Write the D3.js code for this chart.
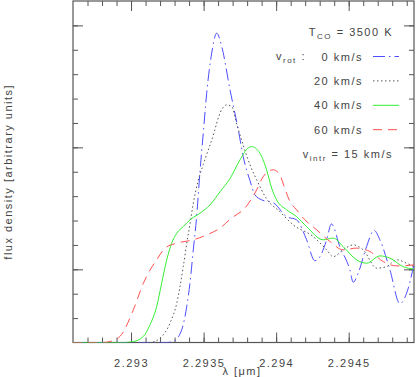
<!DOCTYPE html>
<html>
<head>
<meta charset="utf-8">
<script src="https://cdn.jsdelivr.net/npm/d3@7"></script>
<style>
  body { margin: 0; background: #fff; }
  svg text { font-family: "Liberation Sans", Arial, sans-serif; fill: #444; letter-spacing: 1.5px; }
</style>
</head>
<body>
<svg id="chart" width="416" height="377"></svg>
<script>
// wavelength (micron) / flux density (arbitrary units)
var lamBlue = [2.2926, 2.29325, 2.293291, 2.293349, 2.293384, 2.293406, 2.293429, 2.293452, 2.293475, 2.293498,
  2.293521, 2.293556, 2.29359, 2.293625, 2.293682, 2.293739, 2.293773, 2.29382, 2.293854, 2.2939,
  2.29398, 2.294072, 2.294141, 2.29421, 2.294267, 2.294302, 2.294348, 2.294381, 2.294439, 2.294508,
  2.294531, 2.294565, 2.294623, 2.294674, 2.294715, 2.294784, 2.294853, 2.294899, 2.294949];
var fluxBlue = [0, 0, 0.04, 0.52, 1.48, 2.43, 3.8, 5.16, 7.0, 8.6,
  10.2, 11.87, 12.68, 12.13, 10.36, 8.72, 7.62, 6.63, 6.05, 5.85,
  5.73, 5.16, 5.03, 4.21, 3.35, 3.52, 4.21, 4.86, 3.93, 2.98,
  2.47, 2.84, 3.93, 4.6, 4.21, 2.98, 1.59, 2.02, 3.18];

var lamBlack = [2.2926, 2.29313, 2.293200, 2.293269, 2.293315, 2.29336, 2.293384, 2.293406, 2.293429, 2.293461,
  2.293498, 2.293556, 2.293625, 2.293659, 2.293694, 2.293728, 2.293773, 2.29382, 2.293866, 2.293934,
  2.294026, 2.294118, 2.294256, 2.294348, 2.294393, 2.294462, 2.294531, 2.2946, 2.294692, 2.294761,
  2.29483, 2.294899, 2.294949];
var fluxBlack = [0, 0, 0.18, 0.8, 1.61, 3.11, 4.07, 4.85, 5.7, 6.6,
  7.3, 8.3, 9.55, 9.74, 9.67, 8.96, 8.1, 7.28, 6.67, 5.89,
  5.36, 4.82, 4.34, 3.8, 3.52, 3.8, 4.0, 3.8, 3.05, 3.11,
  3.39, 3.25, 3.11];

var lamGreen = [2.2926, 2.29295, 2.293016, 2.293085, 2.293131, 2.293177, 2.293211, 2.293246, 2.29328, 2.293315,
  2.29336, 2.293406, 2.293475, 2.293544, 2.293613, 2.293682, 2.293751, 2.293808, 2.29383, 2.293888,
  2.293934, 2.293969, 2.294003, 2.294072, 2.294141, 2.294210, 2.294324, 2.294393, 2.294462, 2.294554,
  2.294623, 2.294715, 2.294784, 2.294875, 2.294949];
var fluxGreen = [0, 0, 0.04, 0.25, 0.73, 1.48, 2.43, 3.39, 4.07, 4.48,
  4.75, 5.03, 5.3, 5.64, 6.18, 6.72, 7.49, 7.98, 8.03, 7.76,
  7.08, 6.33, 5.85, 5.44, 5.16, 4.75, 4.21, 4.28, 3.93, 3.39,
  3.25, 3.55, 3.46, 3.11, 3.01];

var lamRed = [2.2926, 2.2928, 2.292855, 2.292924, 2.293016, 2.293085, 2.293131, 2.293177, 2.293234, 2.293315,
  2.293429, 2.293521, 2.293613, 2.293682, 2.293797, 2.293866, 2.293911, 2.293957, 2.293980, 2.294026,
  2.294049, 2.294095, 2.294141, 2.294187, 2.294279, 2.294371, 2.294462, 2.294554, 2.294646, 2.294738,
  2.29483, 2.294949];
var fluxRed = [0, 0, 0.04, 0.25, 1.34, 2.43, 2.97, 3.39, 3.87, 4.07,
  4.21, 4.41, 4.69, 5.05, 5.6, 6.26, 6.8, 7.05, 7.08, 6.87,
  6.5, 5.78, 5.44, 5.1, 4.62, 4.14, 3.8, 3.87, 3.73, 3.32,
  3.14, 3.18];

var seriesNames = ["0 km/s", "20 km/s", "40 km/s", "60 km/s"];
var xTickLabels = [2.293, 2.2935, 2.294, 2.2945];

var series = [
  { name: seriesNames[0], lam: lamBlue, flux: fluxBlue, color: "#4d4dff", dash: "12,4,1.5,4" },
  { name: seriesNames[1], lam: lamBlack, flux: fluxBlack, color: "#555", dash: "1.5,2.5" },
  { name: seriesNames[2], lam: lamGreen, flux: fluxGreen, color: "#33ee33", dash: null },
  { name: seriesNames[3], lam: lamRed, flux: fluxRed, color: "#ff5050", dash: "9,6" }
];

var margin = { left: 73, right: 2, top: 1, bottom: 34.5 };
var width = 416, height = 377;
var svg = d3.select("#chart");

var x = d3.scaleLinear().domain([2.2926, 2.29495]).range([margin.left, width - margin.right]);
var y = d3.scaleLinear().domain([0, 14]).range([height - margin.bottom, margin.top]);

var minorX = d3.range(27, 50).map(function(i) { return 2.29 + i * 0.0001; });
var minorY = d3.range(1, 14);
var majorY = [3, 8, 13];

svg.append("defs").append("clipPath").attr("id", "clip")
  .append("rect")
  .attr("x", x.range()[0]).attr("y", y.range()[1])
  .attr("width", x.range()[1] - x.range()[0])
  .attr("height", y.range()[0] - y.range()[1]);

var axisColor = "#555";

function styleAxis(g) {
  g.selectAll(".domain").remove();
  g.selectAll("line").attr("stroke", axisColor);
}

// bottom axis: minor + labelled major ticks
svg.append("g").attr("transform", "translate(0," + y(0) + ")")
  .call(d3.axisBottom(x).tickValues(minorX).tickSize(-5).tickFormat(""))
  .call(styleAxis);
svg.append("g").attr("transform", "translate(0," + y(0) + ")")
  .call(d3.axisBottom(x).tickValues(xTickLabels).tickSize(-10).tickPadding(17).tickFormat(d3.format("")))
  .call(styleAxis)
  .selectAll("text").attr("font-size", 11).attr("fill", "#444");

// top axis
svg.append("g").attr("transform", "translate(0," + y(14) + ")")
  .call(d3.axisTop(x).tickValues(minorX).tickSize(-5).tickFormat(""))
  .call(styleAxis);
svg.append("g").attr("transform", "translate(0," + y(14) + ")")
  .call(d3.axisTop(x).tickValues(xTickLabels).tickSize(-10).tickFormat(""))
  .call(styleAxis);

// left / right axes, no labels
[[d3.axisLeft, x.range()[0]], [d3.axisRight, x.range()[1]]].forEach(function(a) {
  svg.append("g").attr("transform", "translate(" + a[1] + ",0)")
    .call(a[0](y).tickValues(minorY).tickSize(-5).tickFormat(""))
    .call(styleAxis);
  svg.append("g").attr("transform", "translate(" + a[1] + ",0)")
    .call(a[0](y).tickValues(majorY).tickSize(-10).tickFormat(""))
    .call(styleAxis);
});

// frame
svg.append("rect")
  .attr("x", x.range()[0]).attr("y", y.range()[1])
  .attr("width", x.range()[1] - x.range()[0])
  .attr("height", y.range()[0] - y.range()[1])
  .attr("fill", "none").attr("stroke", axisColor).attr("stroke-width", 1.2);

var line = d3.line()
  .x(function(d) { return x(d[0]); })
  .y(function(d) { return y(d[1]); })
  .curve(d3.curveMonotoneX);

var curves = svg.append("g").attr("clip-path", "url(#clip)");
series.forEach(function(s) {
  curves.append("path")
    .datum(d3.zip(s.lam, s.flux))
    .attr("d", line)
    .attr("fill", "none")
    .attr("stroke", s.color)
    .attr("stroke-width", 1)
    .attr("stroke-dasharray", s.dash);
});

// legend
var leg = svg.append("g").attr("font-size", 11);
var t1 = leg.append("text").attr("x", 393).attr("y", 36).attr("text-anchor", "end");
t1.append("tspan").text("T");
t1.append("tspan").attr("font-size", 8).attr("dy", 3).text("CO");
t1.append("tspan").attr("dy", -3).text(" = 3500 K");

var tr = leg.append("text").attr("x", 276).attr("y", 60);
tr.append("tspan").text("v");
tr.append("tspan").attr("font-size", 8).attr("dy", 3).text("rot");
tr.append("tspan").attr("dy", -3).text(" :");

series.forEach(function(s, i) {
  var yy = 56.5 + i * 24.4;
  leg.append("text").attr("x", 363).attr("y", yy + 4).attr("text-anchor", "end").text(s.name);
  leg.append("line")
    .attr("x1", 373).attr("x2", 399).attr("y1", yy).attr("y2", yy)
    .attr("stroke", s.color).attr("stroke-width", 1).attr("stroke-dasharray", s.dash);
});

var ti = leg.append("text").attr("x", 393).attr("y", 158).attr("text-anchor", "end");
ti.append("tspan").text("v");
ti.append("tspan").attr("font-size", 8).attr("dy", 3).text("intr");
ti.append("tspan").attr("dy", -3).text(" = 15 km/s");

// axis titles
svg.append("text").attr("x", 242).attr("y", 375).attr("text-anchor", "middle")
  .attr("font-size", 11).text("λ [μm]");
svg.append("text")
  .attr("transform", "translate(12," + y(7) + ") rotate(-90)")
  .attr("text-anchor", "middle").attr("font-size", 11)
  .text("flux density [arbitrary units]");
</script>
</body>
</html>
